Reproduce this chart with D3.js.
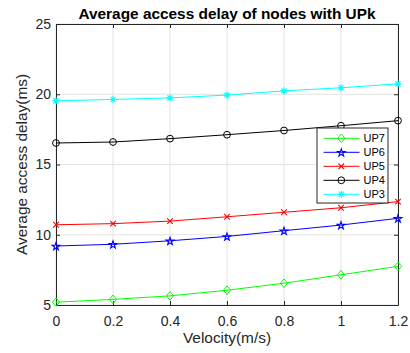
<!DOCTYPE html>
<html>
<head>
<meta charset="utf-8">
<script src="https://cdn.jsdelivr.net/npm/d3@7"></script>
<style>
  body { margin: 0; background: #fff; }
  svg { display: block; font-family: "Liberation Sans", Arial, Helvetica, sans-serif; }
</style>
</head>
<body>
<svg id="chart" width="410" height="353"></svg>
<script>
// Velocity values (m/s) on the x axis
const velocity = [0, 0.2, 0.4, 0.6, 0.8, 1.0, 1.2];
const xTicks = [0, 0.2, 0.4, 0.6, 0.8, 1, 1.2];
const yTicks = [5, 10, 15, 20, 25];

// Average access delay (ms) per series
const up7 = [5.2, 5.4, 5.65, 6.05, 6.55, 7.15, 7.75];
const up6 = [9.2, 9.32, 9.57, 9.88, 10.29, 10.69, 11.17];
const up5 = [10.71, 10.79, 10.97, 11.28, 11.6, 11.92, 12.36];
const up4 = [16.53, 16.6, 16.84, 17.12, 17.42, 17.76, 18.12];
const up3 = [19.53, 19.63, 19.74, 19.94, 20.24, 20.46, 20.74];

const seriesNames = ["UP7", "UP6", "UP5", "UP4", "UP3"];
const seriesValues = [up7, up6, up5, up4, up3];
const seriesColors = ["#00ff00", "#0000ff", "#ff0000", "#000000", "#00ffff"];
const seriesMarkers = ["diamond", "star", "cross", "circle", "asterisk"];

const svg = d3.select("#chart");
const margin = { left: 56, right: 12, top: 24, bottom: 48 };
const W = 410, H = 353;
const x = d3.scaleLinear().domain([0, 1.2]).range([margin.left, W - margin.right]);
const y = d3.scaleLinear().domain([5, 25]).range([H - margin.bottom, margin.top]);
const x0 = x.range()[0], x1 = x.range()[1], y0 = y.range()[0], y1 = y.range()[1];

// grid
const grid = svg.append("g").attr("stroke", "#e3e3e3").attr("stroke-width", 1);
xTicks.forEach(t => grid.append("line").attr("x1", x(t)).attr("x2", x(t)).attr("y1", y1).attr("y2", y0));
yTicks.forEach(t => grid.append("line").attr("x1", x0).attr("x2", x1).attr("y1", y(t)).attr("y2", y(t)));

// axes (ticks pointing inward, box on)
const tickLen = 4;
const xAxis = svg.append("g").attr("transform", `translate(0,${y0})`)
  .call(d3.axisBottom(x).tickValues(xTicks).tickFormat(d3.format("~g")).tickSizeInner(-tickLen).tickSizeOuter(0).tickPadding(11));
const yAxis = svg.append("g").attr("transform", `translate(${x0},0)`)
  .call(d3.axisLeft(y).tickValues(yTicks).tickSizeInner(-tickLen).tickSizeOuter(0).tickPadding(5));
const xTop = svg.append("g").attr("transform", `translate(0,${y1})`)
  .call(d3.axisTop(x).tickValues(xTicks).tickFormat("").tickSizeInner(-tickLen).tickSizeOuter(0));
const yRight = svg.append("g").attr("transform", `translate(${x1},0)`)
  .call(d3.axisRight(y).tickValues(yTicks).tickFormat("").tickSizeInner(-tickLen).tickSizeOuter(0));
[xAxis, yAxis, xTop, yRight].forEach(g => {
  g.selectAll("path,line").attr("stroke", "#262626");
  g.selectAll("text").attr("fill", "#262626").style("font-size", "14px").style("font-family", "Liberation Sans, Arial, sans-serif");
});

// marker shapes
function marker(g, type, color, cx, cy) {
  if (type === "diamond") {
    const w = 3.6, h = 4.3;
    g.append("path").attr("d", `M${cx},${cy - h}L${cx + w},${cy}L${cx},${cy + h}L${cx - w},${cy}Z`)
      .attr("fill", "none").attr("stroke", color).attr("stroke-width", 1);
  } else if (type === "circle") {
    g.append("circle").attr("cx", cx).attr("cy", cy).attr("r", 3.4)
      .attr("fill", "none").attr("stroke", color).attr("stroke-width", 1);
  } else if (type === "star") {
    g.append("path").attr("d", d3.symbol().type(d3.symbolStar).size(18)())
      .attr("transform", `translate(${cx},${cy + 0.5})`)
      .attr("fill", "none").attr("stroke", color).attr("stroke-width", 1.1);
  } else if (type === "cross") {
    const c = 2.8;
    g.append("path").attr("d", `M${cx - c},${cy - c}L${cx + c},${cy + c}M${cx - c},${cy + c}L${cx + c},${cy - c}`)
      .attr("stroke", color).attr("stroke-width", 1.1);
  } else if (type === "asterisk") {
    const c = 3.6, d = 2.6;
    g.append("path").attr("d", `M${cx - c},${cy}L${cx + c},${cy}M${cx},${cy - c}L${cx},${cy + c}M${cx - d},${cy - d}L${cx + d},${cy + d}M${cx - d},${cy + d}L${cx + d},${cy - d}`)
      .attr("stroke", color).attr("stroke-width", 1.1);
  }
}

// series
const line = d3.line().x((d, i) => x(velocity[i])).y(d => y(d));
seriesValues.forEach((vals, k) => {
  const g = svg.append("g");
  g.append("path").datum(vals).attr("d", line).attr("fill", "none")
    .attr("stroke", seriesColors[k]).attr("stroke-width", 1);
  vals.forEach((v, i) => marker(g, seriesMarkers[k], seriesColors[k], x(velocity[i]), y(v)));
});

// title and axis labels
svg.append("text").attr("x", (x0 + x1) / 2).attr("y", 19).attr("text-anchor", "middle")
  .style("font-size", "15.4px").style("font-weight", "bold").attr("fill", "#000")
  .text("Average access delay of nodes with UPk");
svg.append("text").attr("x", (x0 + x1) / 2).attr("y", 343).attr("text-anchor", "middle")
  .style("font-size", "15.4px").attr("fill", "#262626").text("Velocity(m/s)");
svg.append("text").attr("transform", `translate(27,${(y0 + y1) / 2}) rotate(-90)`).attr("text-anchor", "middle")
  .style("font-size", "15.4px").attr("fill", "#262626").text("Average access delay(ms)");

// legend (UP7 first)
const lg = svg.append("g");
const lx = 317, ly = 128, lw = 71, lh = 75;
lg.append("rect").attr("x", lx).attr("y", ly).attr("width", lw).attr("height", lh)
  .attr("fill", "#fff").attr("stroke", "#262626").attr("stroke-width", 1);
seriesNames.forEach((name, k) => {
  const yy = ly + 10.3 + k * 14;
  lg.append("line").attr("x1", lx + 6.5).attr("x2", lx + 42.5).attr("y1", yy).attr("y2", yy)
    .attr("stroke", seriesColors[k]).attr("stroke-width", 1);
  marker(lg, seriesMarkers[k], seriesColors[k], lx + 24.3, yy);
  lg.append("text").attr("x", lx + 46.5).attr("y", yy + 4).style("font-size", "11px")
    .attr("fill", "#000").text(name);
});
</script>
</body>
</html>
